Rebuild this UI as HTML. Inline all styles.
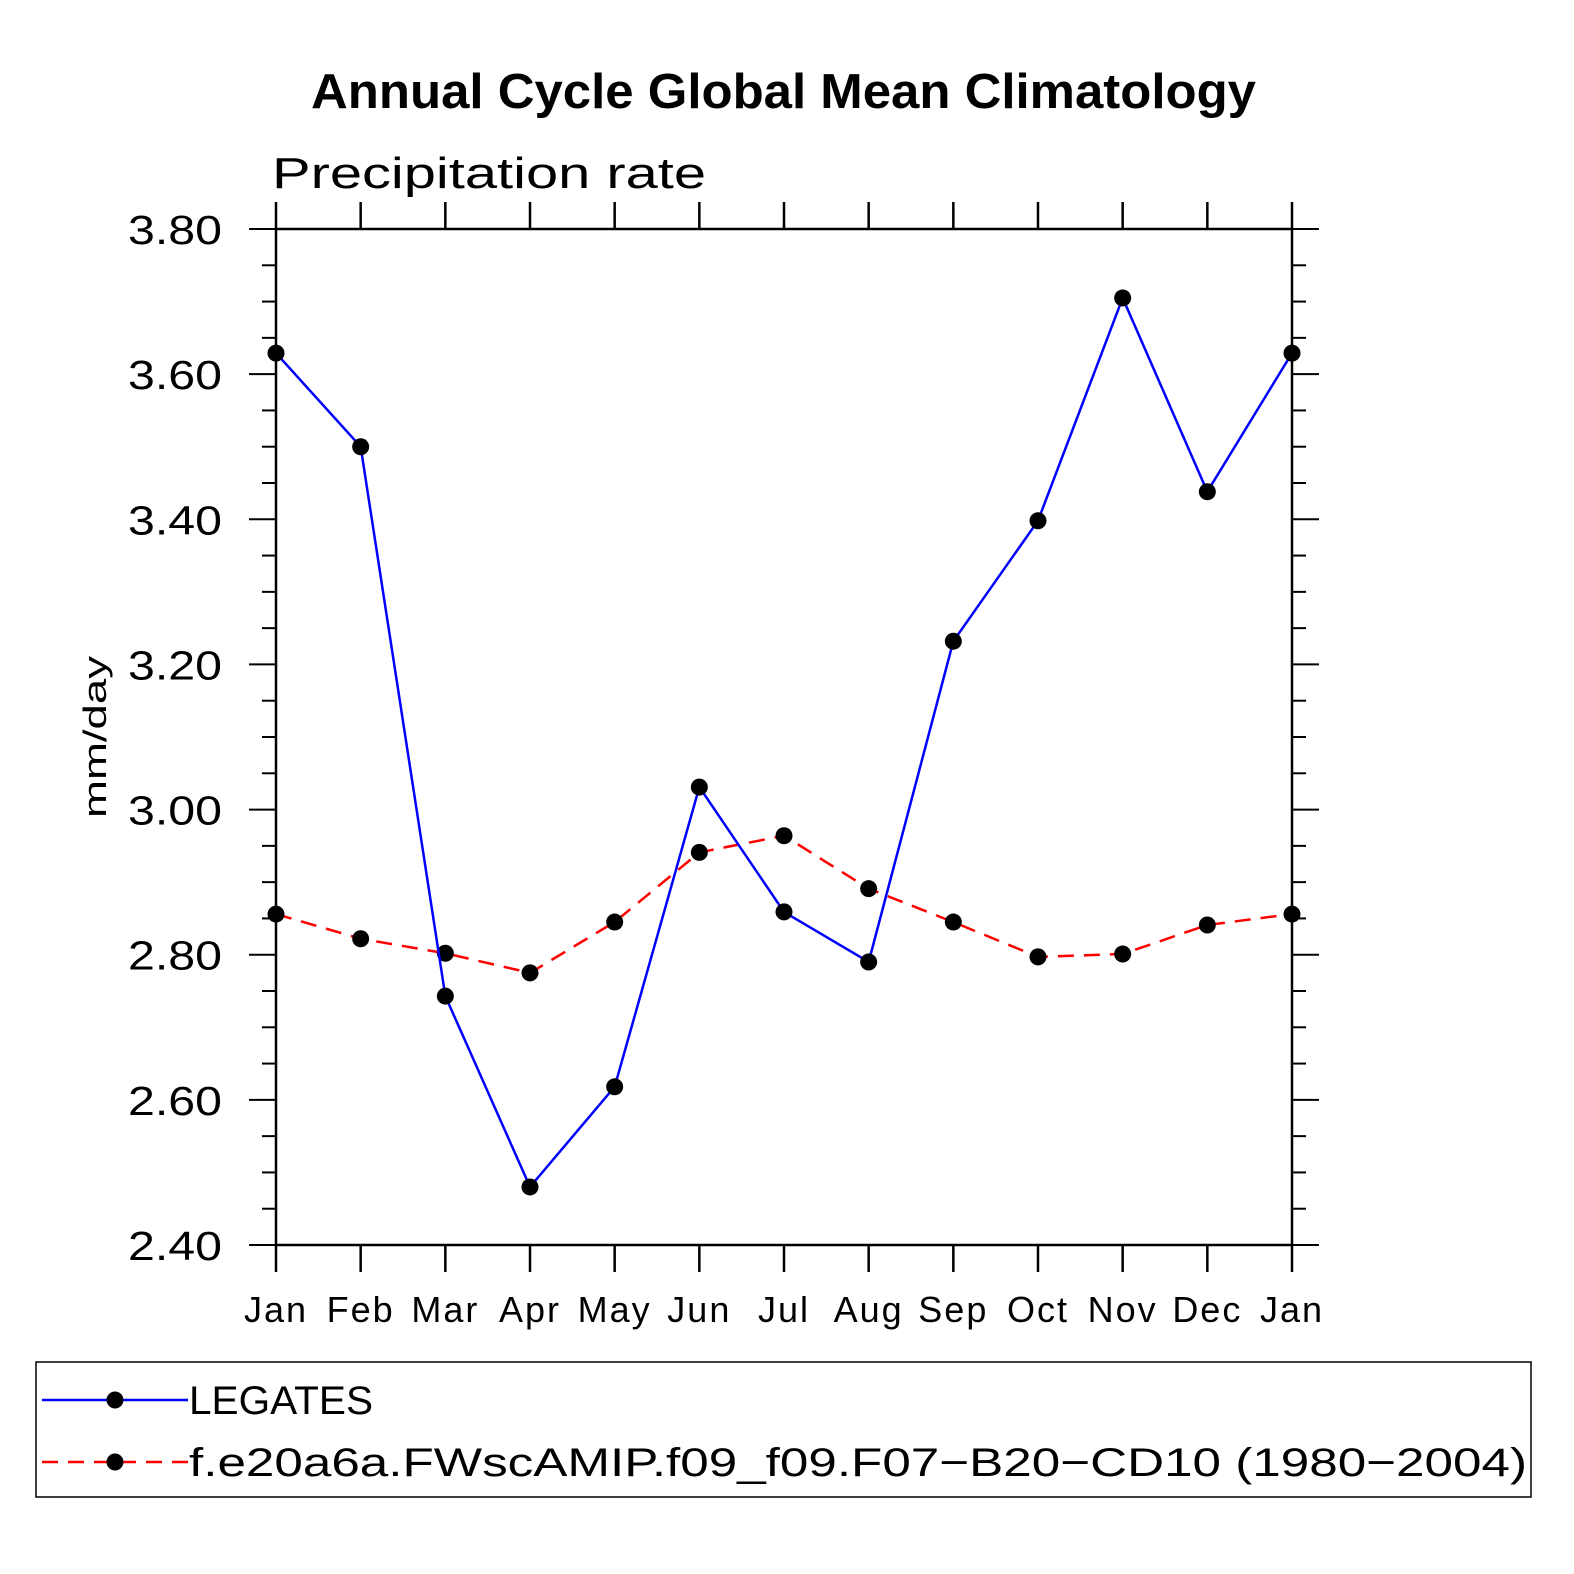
<!DOCTYPE html>
<html><head><meta charset="utf-8"><style>
html,body{margin:0;padding:0;background:#fff;overflow:hidden;width:1574px;height:1574px;}
svg{display:block;}
svg text{font-family:"Liberation Sans",sans-serif;}
</style></head><body>
<svg id="chart" width="1574" height="1574" viewBox="0 0 1574 1574" xmlns="http://www.w3.org/2000/svg">
<text x="311" y="108" font-size="49" font-weight="bold" textLength="945" lengthAdjust="spacingAndGlyphs">Annual Cycle Global Mean Climatology</text>
<text x="272" y="188" font-size="44" textLength="434" lengthAdjust="spacingAndGlyphs">Precipitation rate</text>
<text transform="translate(106,737) rotate(-90)" text-anchor="middle" font-size="32" textLength="162" lengthAdjust="spacingAndGlyphs">mm/day</text>
<rect x="276" y="229" width="1016" height="1016" fill="none" stroke="#000" stroke-width="2.5"/>
<g id="axes"></g>
<g id="series"></g>
<g>
<rect x="36" y="1362" width="1495" height="135" fill="none" stroke="#000" stroke-width="1.5"/>
<g>
<line x1="42" y1="1400" x2="188" y2="1400" stroke="#0000ff" stroke-width="2.5"/>
<circle cx="115" cy="1400" r="8.5" fill="#000"/>
<text x="189" y="1414" font-size="40" textLength="184" lengthAdjust="spacingAndGlyphs">LEGATES</text></g>
<g>
<line x1="42" y1="1462" x2="188" y2="1462" stroke="#ff0000" stroke-width="2.5" stroke-dasharray="16,10"/>
<circle cx="115" cy="1462" r="8.5" fill="#000"/>
<text x="189" y="1476" font-size="40" textLength="1338" lengthAdjust="spacingAndGlyphs">f.e20a6a.FWscAMIP.f09_f09.F07−B20−CD10 (1980−2004)</text></g>
</g>
</svg>
<script>
const months=["Jan","Feb","Mar","Apr","May","Jun","Jul","Aug","Sep","Oct","Nov","Dec","Jan"];
const legates=[3.629,3.500,2.743,2.480,2.618,3.031,2.859,2.790,3.232,3.398,3.705,3.438,3.629];
const model=[2.856,2.822,2.802,2.775,2.845,2.941,2.964,2.891,2.845,2.797,2.801,2.841,2.856];
const yTicks=[2.40,2.60,2.80,3.00,3.20,3.40,3.60,3.80];
const yMin=2.40,yMax=3.80;
const X0=276,X1=1292,Y0=1245,Y1=229;
const xs=i=>X0+(X1-X0)*i/(months.length-1);
const ys=v=>Y0-(v-yMin)/(yMax-yMin)*(Y0-Y1);
const NS="http://www.w3.org/2000/svg";
const axes=document.getElementById('axes'),ser=document.getElementById('series');
function mk(tag,attrs,parent){const e=document.createElementNS(NS,tag);for(const k in attrs)e.setAttribute(k,attrs[k]);parent.appendChild(e);return e;}
months.forEach((m,i)=>{
 const x=xs(i);
 const t1=mk('line',{x1:x,y1:Y0,x2:x,y2:Y0+27,stroke:'#000','stroke-width':2.5},axes);
 
 
 const t2=mk('line',{x1:x,y1:Y1,x2:x,y2:Y1-27,stroke:'#000','stroke-width':2.5},axes);
 
 
 const tx=mk('text',{x:x,y:1322,'text-anchor':'middle','font-size':36,'letter-spacing':2},axes);
 tx.textContent=m;
 
 
});
for(let v=yMin;v<=yMax+1e-6;v+=0.05){
 const y=ys(v);const major=Math.abs(Math.round(v/0.2)*0.2-v)<1e-6;const L=major?27:14;
 const a=mk('line',{x1:X0-L,y1:y,x2:X0,y2:y,stroke:'#000','stroke-width':2},axes);
 
 
 const b=mk('line',{x1:X1,y1:y,x2:X1+L,y2:y,stroke:'#000','stroke-width':2},axes);
 
 
}
yTicks.forEach(v=>{
 const t=mk('text',{x:128,y:ys(v)+15,'font-size':41,textLength:94,lengthAdjust:'spacingAndGlyphs'},axes);
 t.textContent=v.toFixed(2);
 
 
});
function draw(vals,color,dash,name){
 const p=mk('polyline',{points:vals.map((v,i)=>xs(i)+','+ys(v)).join(' '),fill:'none',stroke:color,'stroke-width':2.5,'stroke-dasharray':dash},ser);
 
 
 vals.forEach((v,i)=>{
  const c=mk('circle',{cx:xs(i),cy:ys(v),r:8.5,fill:'#000'},ser);
  
  
 });
}
draw(model,'#ff0000','16,10','model');
draw(legates,'#0000ff','none','legates');
</script>
</body></html>
